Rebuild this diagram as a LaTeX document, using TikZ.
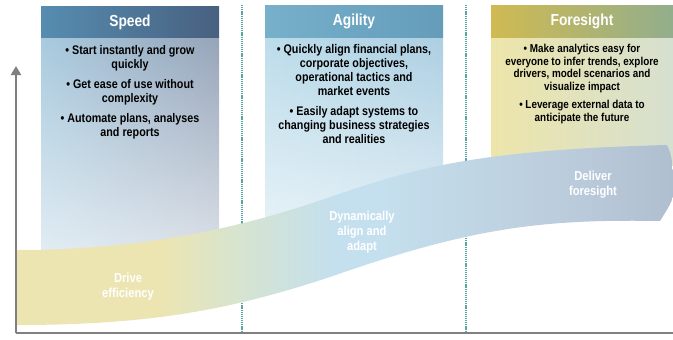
\documentclass[tikz,border=0pt]{standalone}
\usepackage{fontspec}
\setmainfont{Liberation Sans}[FakeStretch=0.86]
\usetikzlibrary{arrows.meta,fadings}

\definecolor{speedhdL}{RGB}{86,141,176}
\definecolor{speedhdR}{RGB}{72,96,128}
\definecolor{speedbdL}{RGB}{168,202,222}
\definecolor{speedbdR}{RGB}{150,164,185}
\definecolor{agilhdL}{RGB}{118,176,202}
\definecolor{agilhdR}{RGB}{100,156,186}
\definecolor{agilbdL}{RGB}{188,220,234}
\definecolor{agilbdR}{RGB}{172,207,226}
\definecolor{forehdL}{RGB}{208,186,82}
\definecolor{forehdR}{RGB}{146,174,140}
\definecolor{forebdL}{RGB}{237,229,170}
\definecolor{forebdR}{RGB}{214,224,208}
\definecolor{bandY}{RGB}{236,229,178}
\definecolor{bandG}{RGB}{214,228,208}
\definecolor{bandB}{RGB}{196,223,237}
\definecolor{bandS}{RGB}{188,205,221}
\definecolor{bandR}{RGB}{176,191,208}
\definecolor{sepline}{RGB}{88,165,165}
\definecolor{axisgray}{RGB}{128,128,128}

\tikzfading[name=fadedown, top color=transparent!0, bottom color=transparent!65]
\pgfdeclarehorizontalshading{bandshade}{100bp}{color(0bp)=(bandY); color(36bp)=(bandY);
  color(42bp)=(bandG); color(49bp)=(bandB); color(53bp)=(bandB); color(66bp)=(bandS); color(75bp)=(bandR); color(100bp)=(bandR)}

\begin{document}
\begin{tikzpicture}[x=1pt,y=-1pt,>={Triangle[width=10pt,length=9pt]},
  hdtxt/.style={text=white,font=\bfseries\fontsize{16}{18}\selectfont},
  bodytxt/.style={anchor=north,align=center,inner sep=0pt,font=\bfseries\fontsize{12.5}{14}\selectfont},
  bandtxt/.style={text=white,align=center,font=\bfseries\fontsize{13}{15}\selectfont},
  sep/.style={sepline,line width=1.4pt,dash pattern=on 1.2pt off 0.9pt},
  axis/.style={axisgray,line width=2pt}]
\useasboundingbox (0,0) rectangle (673,340);
\shade[left color=speedbdL,right color=speedbdR,path fading=fadedown] (41,37) rectangle (219,250);
\shade[left color=speedhdL,right color=speedhdR] (41,6) rectangle (219,37);
\shade[left color=agilbdL,right color=agilbdR,path fading=fadedown] (265,37) rectangle (443,232);
\shade[left color=agilhdL,right color=agilhdR] (265,5) rectangle (443,37);
\shade[left color=forebdL,right color=forebdR] (491,37) rectangle (673,165);
\shade[left color=forehdL,right color=forehdR] (491,5) rectangle (673,37);
\draw[sep] (242,5) -- (242,333);
\draw[sep] (466,5) -- (466,333);
\shade[shading=bandshade]
  (17,250) .. controls (150,250) and (250,225) .. (330,197)
  .. controls (410,170) and (470,150) .. (667,145)
  .. controls (672,155) and (673,165) .. (673,180) -- (673,197)
  .. controls (670,205) .. (660,221)
  .. controls (540,219) and (470,228) .. (330,277)
  .. controls (230,310) and (150,325) .. (17,325) -- cycle;
\coordinate (origin) at (16,333);
\coordinate (ytop) at (16,66);
\coordinate (xend) at (673,333);
\draw[axis,->] (origin) -- (ytop);
\draw[axis] (origin) -- (xend);
\node[hdtxt] (speedhd) at (130,22) {Speed};
\node[hdtxt] (agilhd) at (354,21) {Agility};
\node[hdtxt] (forehd) at (582,21) {Foresight};
\node[bodytxt] (speedtxt) at (130,45) {\textbullet{} Start instantly and grow\\quickly\\[6pt]\textbullet{} Get ease of use without\\complexity\\[6pt]\textbullet{} Automate plans, analyses\\and reports};
\node[bodytxt] (agiltxt) at (354,44) {\textbullet{} Quickly align financial plans,\\corporate objectives,\\operational tactics and\\market events\\[6pt]\textbullet{} Easily adapt systems to\\changing business strategies\\and realities};
\node[bodytxt,font=\bfseries\fontsize{11.5}{12.7}\selectfont] (foretxt) at (582,44) {\textbullet{} Make analytics easy for\\everyone to infer trends, explore\\drivers, model scenarios and\\visualize impact\\[5pt]\textbullet{} Leverage external data to\\anticipate the future};
\node[bandtxt] (effic) at (128,287) {Drive\\efficiency};
\node[bandtxt] (adapt) at (362,232) {Dynamically\\align and\\adapt};
\node[bandtxt] (deliver) at (593,185) {Deliver\\foresight};
\end{tikzpicture}
\end{document}
